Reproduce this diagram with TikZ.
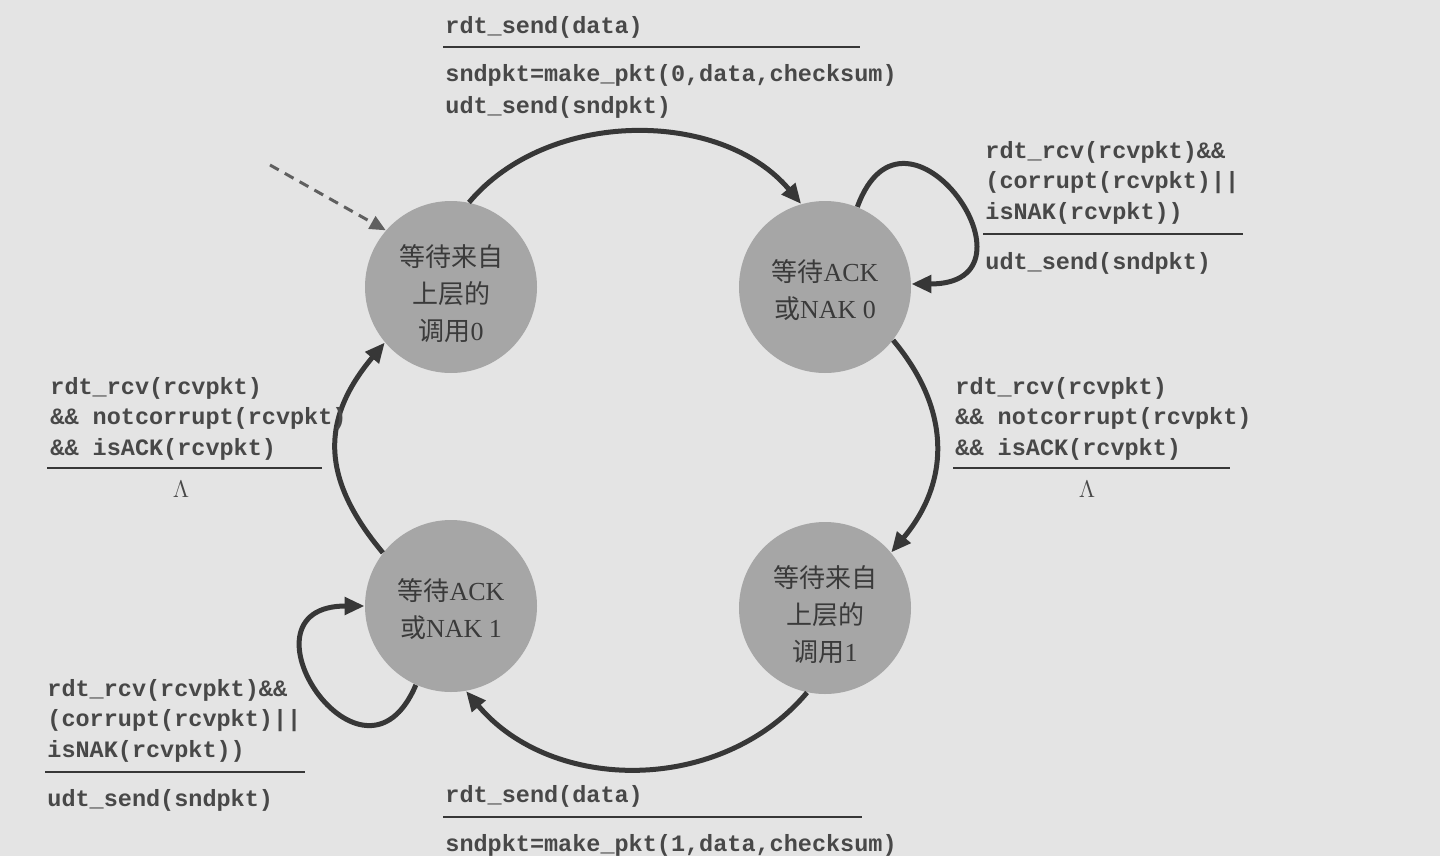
\documentclass[tikz,border=0pt]{standalone}
\usepackage{fontspec}
\setmainfont{Liberation Serif}
\newfontfamily\cjk{Noto Sans CJK SC}
\newfontfamily\codefont{Liberation Mono}
\usetikzlibrary{arrows.meta}
\definecolor{bg}{RGB}{228,228,228}
\definecolor{statefill}{RGB}{166,166,166}
\definecolor{ink}{RGB}{55,55,55}
\definecolor{txt}{RGB}{72,72,72}
\definecolor{statetxt}{RGB}{58,58,58}
\begin{document}
\begin{tikzpicture}[x=0.5pt,y=-0.5pt,
  state/.style={circle, fill=statefill, minimum size=86pt, inner sep=0pt, align=center,
    font=\fontsize{13}{18.5}\selectfont, text=statetxt},
  conn/.style={draw=ink, line width=2.5pt, -{Triangle[length=10pt,width=8.5pt]}},
  initarr/.style={draw=ink!80, line width=1.5pt, dash pattern=on 5pt off 3.5pt, -{Triangle[length=8pt,width=7pt]}},
  lbl/.style={font=\codefont\bfseries\fontsize{11.75}{15.25}\selectfont, text=txt, inner sep=0pt, anchor=base west},
  lam/.style={font=\fontsize{12}{14}\selectfont, text=txt, inner sep=0pt, anchor=base},
  rule/.style={draw=ink, line width=1.2pt}]
\fill[bg] (0,0) rectangle (1440,856);
\useasboundingbox (0,0) rectangle (1440,856);

% states
\node[state] (s0) at (451,287) {\rule{0pt}{17.5pt}{\cjk 等待来自}\\{\cjk 上层的}\\{\cjk 调用}0};
\node[state] (s1) at (825,287) {\rule{0pt}{14.5pt}{\cjk 等待}ACK\\{\cjk 或}NAK 0};
\node[state] (s2) at (825,608) {\rule{0pt}{17.5pt}{\cjk 等待来自}\\{\cjk 上层的}\\{\cjk 调用}1};
\node[state] (s3) at (451,606) {\rule{0pt}{14.5pt}{\cjk 等待}ACK\\{\cjk 或}NAK 1};

% connectors
\coordinate (init) at (270,165);
\draw[initarr] (init) -- (s0.139);
\draw[conn] (s0.78) to[out=50,in=130,looseness=0.95] (s1.106);
\draw[conn] (s1.68) to[out=70,in=0,looseness=3.8] (s1.2);
\draw[conn] (s1.-38) to[out=-50,in=50,looseness=1.1] (s2.40);
\draw[conn] (s2.-102) to[out=-130,in=-50] (s3.-80);
\draw[conn] (s3.-114) to[out=-113,in=180,looseness=3.7] (s3.180);
\draw[conn] (s3.142) to[out=130,in=-130,looseness=1.2] (s0.-140);

% top label
\node[lbl] (ta) at (445,34) {rdt\_send(data)};
\draw[rule] (443,47) -- (860,47);
\node[lbl] (tb) at (445,82) {sndpkt=make\_pkt(0,data,checksum)};
\node[lbl] (tc) at (445,113) {udt\_send(sndpkt)};

% right top label
\node[lbl] (ra) at (985,158) {rdt\_rcv(rcvpkt)\&\&};
\node[lbl] (rb) at (985,188) {(corrupt(rcvpkt)||};
\node[lbl] (rc) at (985,219) {isNAK(rcvpkt))};
\draw[rule] (983,234) -- (1243,234);
\node[lbl] (rd) at (985,269) {udt\_send(sndpkt)};

% right middle label
\node[lbl] (ma) at (955,394) {rdt\_rcv(rcvpkt)};
\node[lbl] (mb) at (955,424) {\&\& notcorrupt(rcvpkt)};
\node[lbl] (mc) at (955,455) {\&\& isACK(rcvpkt)};
\draw[rule] (953,468) -- (1230,468);
\node[lam] (ml) at (1087,497) {$\Lambda$};

% left middle label
\node[lbl] (la) at (50,394) {rdt\_rcv(rcvpkt)};
\node[lbl] (lb) at (50,424) {\&\& notcorrupt(rcvpkt)};
\node[lbl] (lc) at (50,455) {\&\& isACK(rcvpkt)};
\draw[rule] (47,468) -- (322,468);
\node[lam] (ll) at (181,497) {$\Lambda$};

% left bottom label
\node[lbl] (ba) at (47,696) {rdt\_rcv(rcvpkt)\&\&};
\node[lbl] (bb) at (47,726) {(corrupt(rcvpkt)||};
\node[lbl] (bc) at (47,757) {isNAK(rcvpkt))};
\draw[rule] (45,772) -- (305,772);
\node[lbl] (bd) at (47,806) {udt\_send(sndpkt)};

% bottom label
\node[lbl] (da) at (445,802) {rdt\_send(data)};
\draw[rule] (443,817) -- (862,817);
\node[lbl] (db) at (445,851) {sndpkt=make\_pkt(1,data,checksum)};
\end{tikzpicture}
\end{document}
